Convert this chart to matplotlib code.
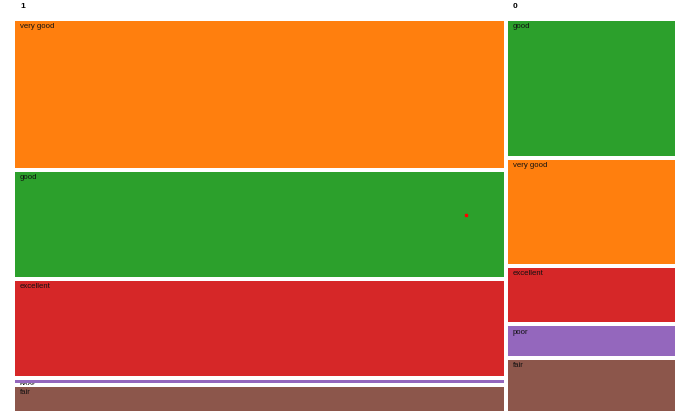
import matplotlib
matplotlib.use('Agg')
import matplotlib.pyplot as plt
import matplotlib.patches as patches

# data: two groups, each split into categories (counts)
groups = ['1', '0']
group_categories = [
    ['very good', 'good', 'excellent', 'poor', 'fair'],
    ['good', 'very good', 'excellent', 'poor', 'fair'],
]
group_counts = [
    [284, 206, 186, 13, 53],
    [91, 71, 38, 22, 36],
]
category_colors = {
    'very good': '#ff7f0e',
    'good': '#2ca02c',
    'excellent': '#d62728',
    'poor': '#9467bd',
    'fair': '#8c564b',
}
# small red marker inside the first group (x in counts, y in fraction)
marker_x = [682.0]
marker_y = [0.497]

# figure geometry in pixels
fig_w, fig_h = 690, 420
left_px, right_px, top_px, bottom_px = 13, 677, 19, 413
gap_px = 2.0

plt.rcParams['font.family'] = ['Liberation Sans', 'DejaVu Sans']

fig = plt.figure(figsize=(fig_w / 100, fig_h / 100), dpi=100)
ax = fig.add_axes([left_px / fig_w, 1 - bottom_px / fig_h,
                   (right_px - left_px) / fig_w, (bottom_px - top_px) / fig_h])
ax.axis('off')

total = sum(sum(c) for c in group_counts)
ax.set_xlim(0, total)
ax.set_ylim(1, 0)

gx = gap_px / (right_px - left_px) * total
gy = gap_px / (bottom_px - top_px)

x0 = 0
for g, cats, counts in zip(groups, group_categories, group_counts):
    width = sum(counts)
    y0 = 0
    for cat, n in zip(cats, counts):
        h = n / width
        rect = patches.Rectangle((x0 + gx, y0 + gy), width - 2 * gx, h - 2 * gy,
                                 facecolor=category_colors[cat], edgecolor='none')
        ax.add_patch(rect)
        # labels are clipped to the whole cell (including the white gap)
        cell = patches.Rectangle((x0, y0), width, h, facecolor='none',
                                 edgecolor='none', transform=ax.transData)
        txt = ax.annotate(cat, xy=(x0 + gx, y0 + gy), xytext=(3.6, -1.5),
                          textcoords='offset points', fontsize=5.6, color='#111111',
                          ha='left', va='top', annotation_clip=False)
        txt.set_clip_path(cell)
        y0 += h
    # group header
    fig.text((left_px + (x0 / total) * (right_px - left_px) + 7) / fig_w,
             1 - 2.5 / fig_h, g, fontsize=6, fontweight='bold', ha='left', va='top')
    x0 += width

ax.plot(marker_x, marker_y, 's', color='red', markersize=2.0)

fig.savefig('out.png', dpi=100)
